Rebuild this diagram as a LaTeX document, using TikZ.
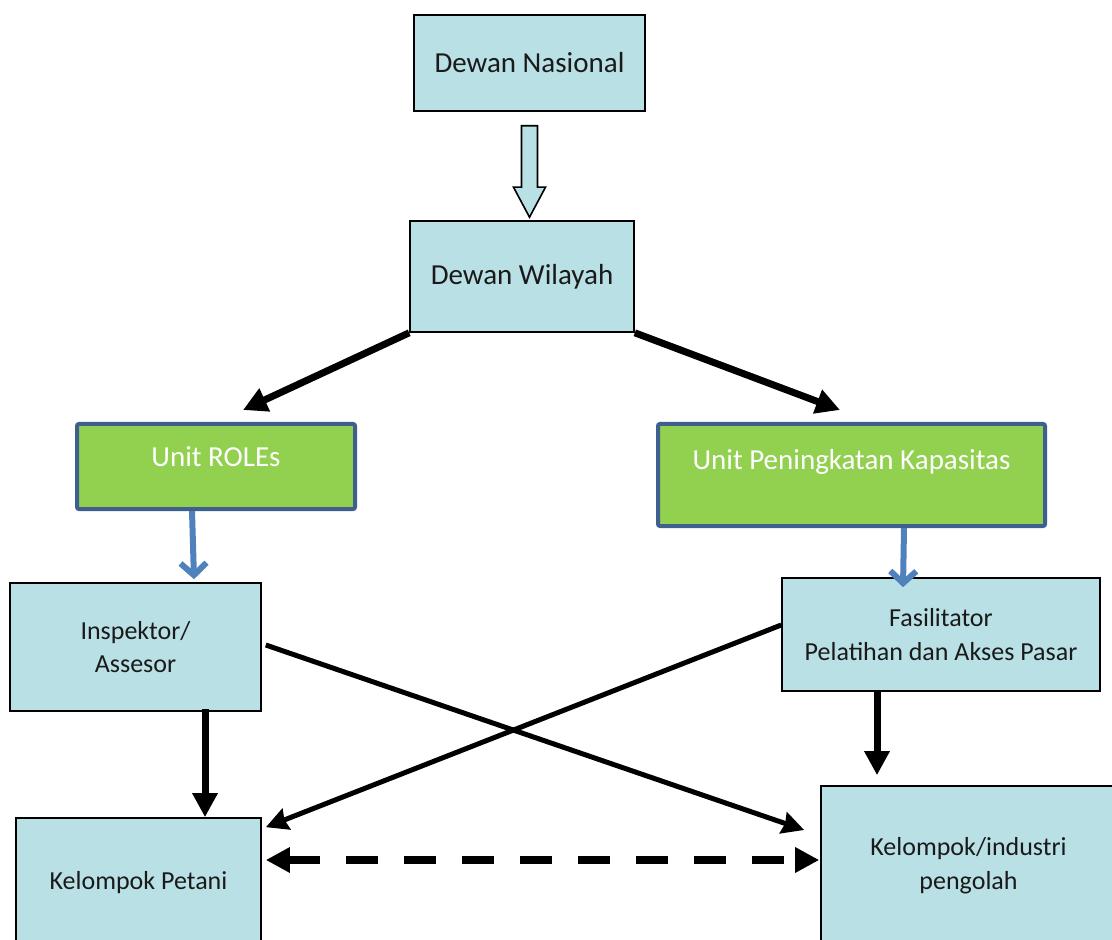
\documentclass[tikz,border=0pt]{standalone}
\usepackage{fontspec}
\setmainfont{Carlito}
\usepackage{tikz}
\usetikzlibrary{arrows.meta}
\usetikzlibrary{calc}
\definecolor{boxblue}{RGB}{185,224,228}
\definecolor{unitgreen}{RGB}{146,208,80}
\definecolor{unitline}{RGB}{63,95,143}
\definecolor{linkblue}{RGB}{79,129,189}
\definecolor{textgray}{RGB}{26,26,26}

\begin{document}
\begin{tikzpicture}[x=0.5pt,y=-0.5pt,
  box/.style={draw=black,line width=0.8pt,fill=boxblue,text=textgray,align=center,inner sep=0pt},
  unit/.style={draw=unitline,line width=2pt,fill=unitgreen,rounded corners=1pt,inner sep=0pt},
  fat/.style={line width=3.5pt,-{Triangle[length=12pt,width=12pt]}},
  cross/.style={line width=2.5pt,-{Stealth[inset=1pt,length=11pt,width=11pt]}},
  bluelink/.style={draw=linkblue,line width=3pt,-{Straight Barb[length=6pt,width=13pt]}}]
\useasboundingbox (0,0) rectangle (1112,940);

% Draw the boxes
\node[box,font=\fontsize{14.5}{17}\selectfont,minimum width=115.5pt,minimum height=48pt] (nas) at (529.5,63) {Dewan Nasional};
\node[box,font=\fontsize{14.5}{17}\selectfont,minimum width=112pt,minimum height=55.5pt] (wil) at (522,276.5) {Dewan Wilayah};
\node[unit,minimum width=139pt,minimum height=42.5pt,
  label={[text=white,font=\fontsize{14.5}{17}\selectfont,yshift=4.75pt]center:Unit ROLEs}] (roles) at (216,466.5) {};
\node[unit,minimum width=193.5pt,minimum height=51pt,
  label={[text=white,font=\fontsize{14.5}{17}\selectfont,yshift=6.5pt]center:Unit Peningkatan Kapasitas}] (upk) at (851.5,475) {};
\node[box,font=\fontsize{13}{16.5}\selectfont,minimum width=125.5pt,minimum height=64pt] (insp) at (135.5,647) {Inspektor/\\Assesor};
\node[box,font=\fontsize{13}{17}\selectfont,minimum width=159pt,minimum height=56.5pt] (fas) at (941,634.5) {Fasilitator\\Pelatihan dan Akses Pasar};
\node[box,font=\fontsize{13}{17}\selectfont,minimum width=122.5pt,minimum height=65pt] (pet) at (138.5,883) {Kelompok Petani};
\node[box,font=\fontsize{13}{17}\selectfont,minimum width=147.5pt,minimum height=80pt] (ind) at (968.5,866) {Kelompok/industri\\pengolah};

% Hollow arrow between the councils
\coordinate (tip) at (nas.south |- wil.north);
\draw[line width=0.8pt,fill=boxblue]
  ($(nas.south)+(-8,14)$) -- ($(nas.south)+(8,14)$) -- ($(tip)+(8,-33)$) -- ($(tip)+(16,-33)$)
  -- ($(tip)+(0,-3)$) -- ($(tip)+(-16,-33)$) -- ($(tip)+(-8,-33)$) -- cycle;

% Arrows
\draw[fat] (wil.south west) -- ([xshift=13.5pt,yshift=6pt]roles.north);
\draw[fat] (wil.south east) -- ([xshift=-5.75pt,yshift=6pt]upk.north);
\draw[bluelink] ([xshift=-12pt]roles.south) -- ([xshift=29.25pt,yshift=1.5pt]insp.north);
\draw[bluelink] ([xshift=26.25pt]upk.south) -- ([xshift=-19pt,yshift=-5pt]fas.north);
\draw[fat] ([xshift=34.75pt,yshift=1.5pt]insp.south) -- ([xshift=33.25pt]pet.north);
\draw[fat] ([xshift=-32pt]fas.south) -- ([xshift=-45.75pt,yshift=5pt]ind.north);
\draw[cross] ([xshift=2pt,yshift=1pt]insp.east) -- ([xshift=-8pt,yshift=18pt]ind.west);
\draw[cross] ([yshift=4.75pt]fas.west) -- ([xshift=2pt,yshift=-5pt]pet.north east);
\draw[line width=4pt,dash pattern=on 16pt off 13pt,{Triangle[length=12pt,width=12pt]}-{Triangle[length=12pt,width=12pt]}]
  ([xshift=2pt,yshift=11.5pt]pet.east) -- ([xshift=-0.5pt,yshift=3pt]ind.west);

\end{tikzpicture}
\end{document}
